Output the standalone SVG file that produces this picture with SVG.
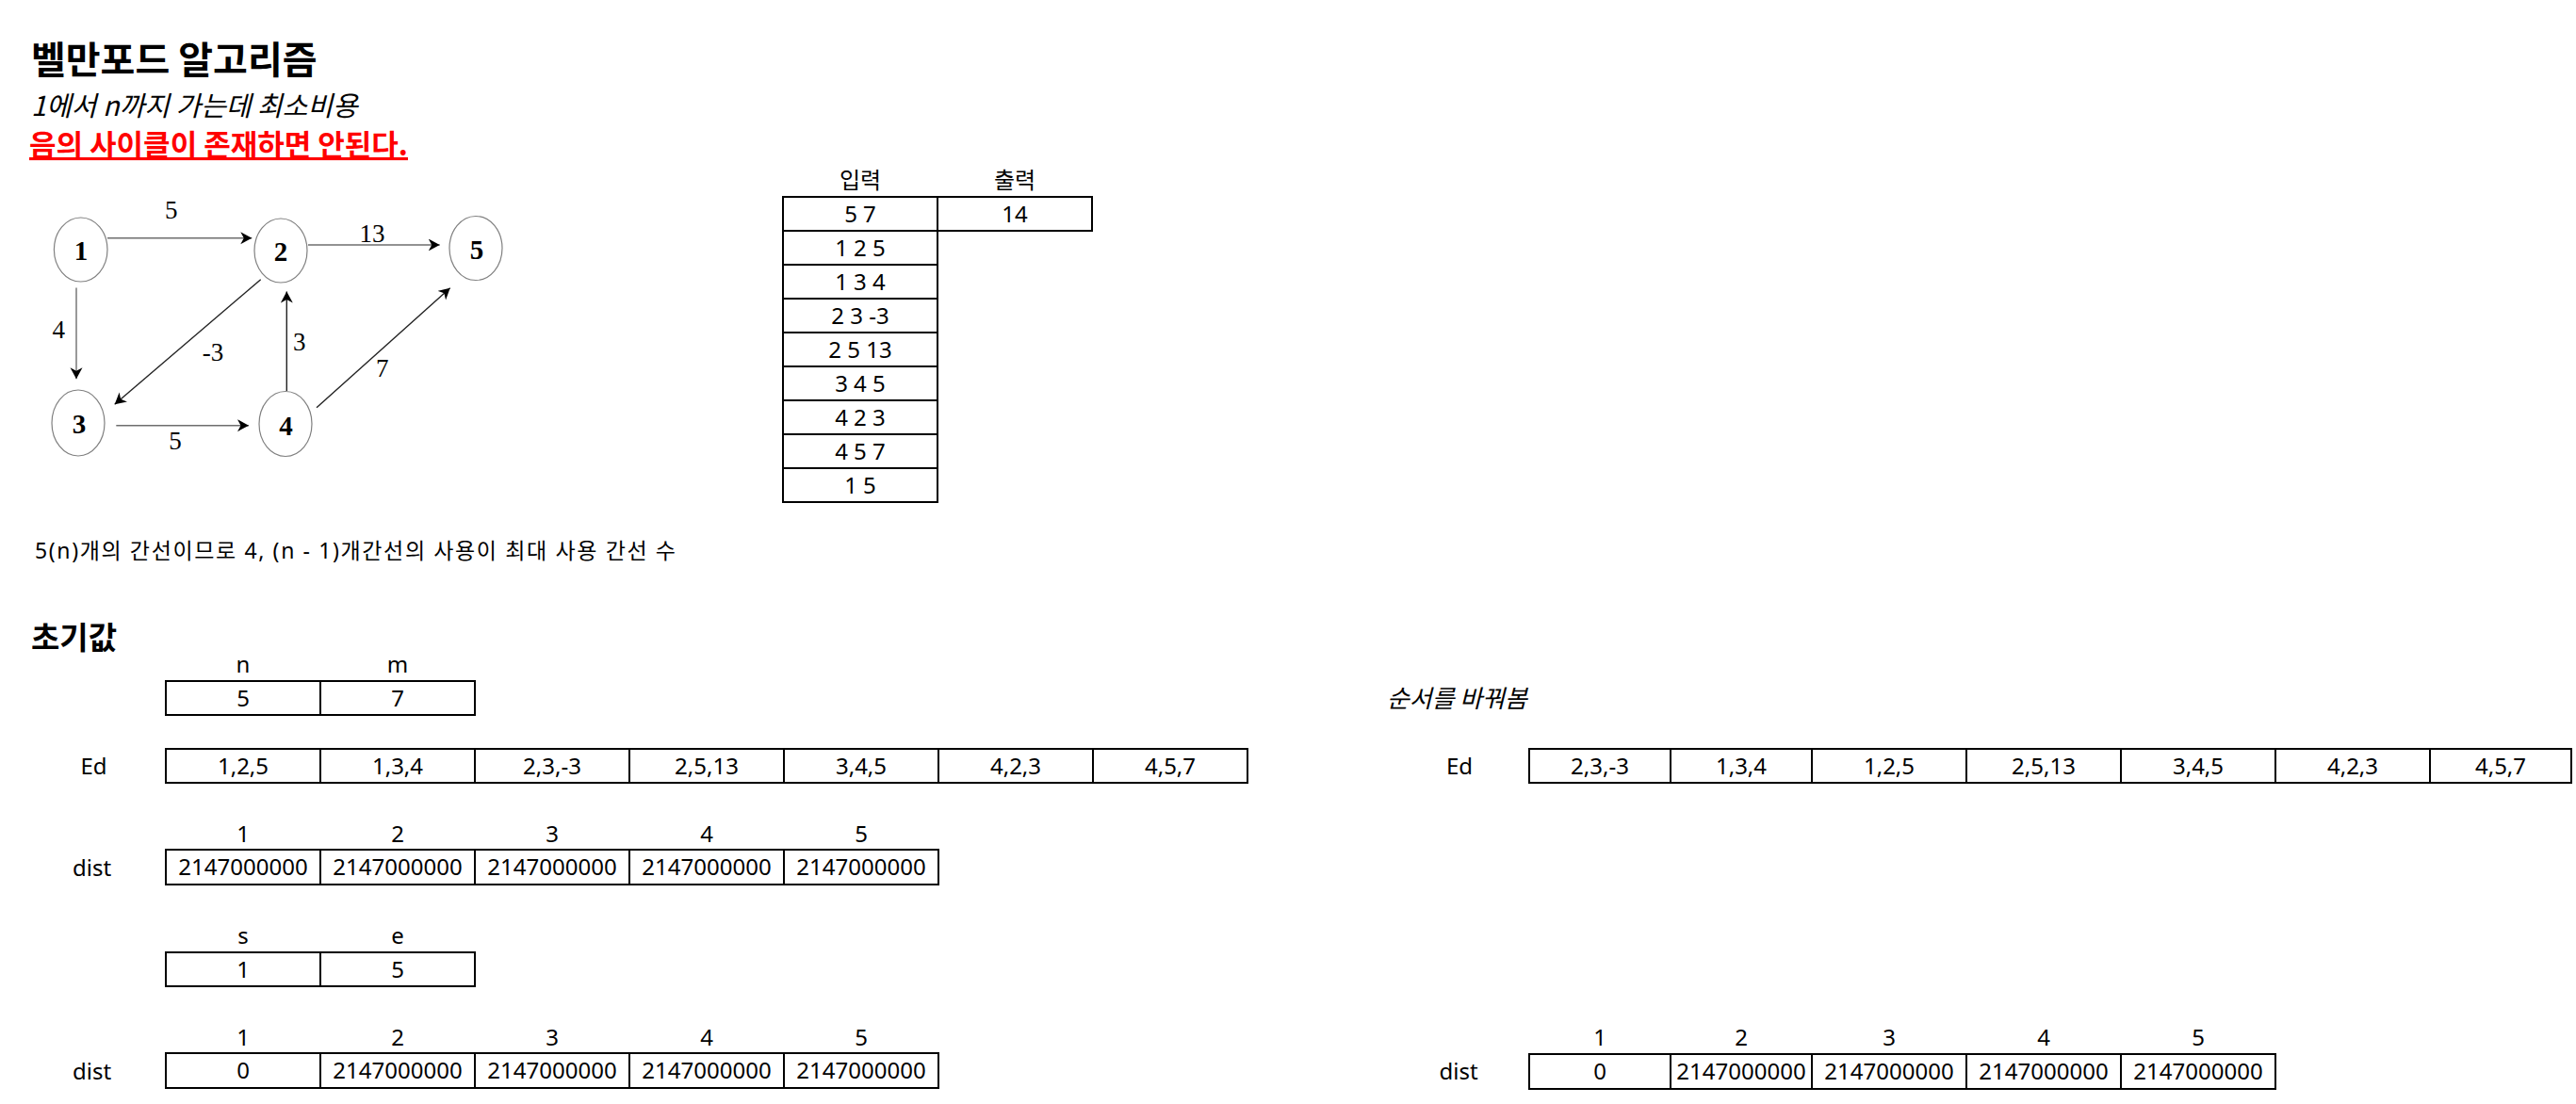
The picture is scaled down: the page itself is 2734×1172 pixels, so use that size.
<svg xmlns="http://www.w3.org/2000/svg" width="2734" height="1172" viewBox="0 0 2734 1172">
<style>
text { font-family: "Noto Sans", "Noto Sans CJK KR", sans-serif; fill: #000; }
.t { font-size: 24px; text-anchor: middle; }
.lbl { font-size: 24px; text-anchor: middle; }
.cell { fill: #fff; stroke: #000; stroke-width: 2; }
.node { fill: #fff; stroke: #808080; stroke-width: 1.2; }
.nl { font-family: "Liberation Serif", serif; font-weight: bold; font-size: 29px; text-anchor: middle; }
.el { font-family: "Liberation Serif", serif; font-size: 27px; text-anchor: middle; }
.edge { fill: none; stroke-width: 1.4; marker-end: url(#arr); }
.g { stroke: #6e6e6e; }
.k { stroke: #222; }
</style>
<defs>
<marker id="arr" markerUnits="userSpaceOnUse" markerWidth="14" markerHeight="14" refX="12" refY="6.5" orient="auto">
<path d="M0,0 L12,6.5 L0,13 L3.5,6.5 Z" fill="#000"/>
</marker>
</defs>
<rect width="2734" height="1172" fill="#fff"/>

<g id="titles">
<text x="33" y="78" style="font-family:'Noto Sans CJK KR',sans-serif;font-size:40px;font-weight:bold">벨만포드 알고리즘</text>
<text x="33" y="123" style="font-family:'Noto Sans CJK KR',sans-serif;font-size:29px;font-style:italic">1에서 n까지 가는데 최소비용</text>
<text x="31" y="165" style="font-family:'Noto Sans CJK KR',sans-serif;font-size:31px;font-weight:bold;fill:#ff0000;text-decoration:underline">음의 사이클이 존재하면 안된다.</text>
</g>

<g id="connectors">
<line class="edge g" x1="114" y1="252.7" x2="267.3" y2="252.7"/>
<line class="edge g" x1="327" y1="260" x2="466.7" y2="260"/>
<line class="edge g" x1="81" y1="305.5" x2="81" y2="402.3"/>
<line class="edge k" x1="276.7" y1="296.7" x2="121.7" y2="429.3"/>
<line class="edge k" x1="304.3" y1="415" x2="304.3" y2="309.5"/>
<line class="edge g" x1="123.3" y1="451.7" x2="264" y2="451.7"/>
<line class="edge k" x1="336" y1="432.7" x2="477.7" y2="305.7"/>
<text class="el" x="181.7" y="231.5">5</text>
<text class="el" x="395" y="256.5">13</text>
<text class="el" x="62.3" y="359">4</text>
<text class="el" x="226" y="383">-3</text>
<text class="el" x="317.7" y="371.5">3</text>
<text class="el" x="405.7" y="400">7</text>
<text class="el" x="186" y="476.5">5</text>
</g>

<g id="node1"><ellipse class="node" cx="85.7" cy="265" rx="28.3" ry="34"/><text class="nl" x="86" y="276">1</text></g>
<g id="node2"><ellipse class="node" cx="298" cy="266" rx="28" ry="34"/><text class="nl" x="298" y="277">2</text></g>
<g id="node5"><ellipse class="node" cx="505" cy="263.5" rx="28" ry="34"/><text class="nl" x="506" y="275">5</text></g>
<g id="node3"><ellipse class="node" cx="83" cy="449" rx="28" ry="35"/><text class="nl" x="84" y="460">3</text></g>
<g id="node4"><ellipse class="node" cx="303" cy="450" rx="28" ry="34.5"/><text class="nl" x="303.5" y="461.5">4</text></g>

<g id="io-table">
<text class="lbl" x="913" y="200">입력</text>
<text class="lbl" x="1077" y="200">출력</text>
<rect class="cell" x="831" y="209" width="164" height="36"/>
<rect class="cell" x="995" y="209" width="164" height="36"/>
<rect class="cell" x="831" y="245" width="164" height="36"/>
<rect class="cell" x="831" y="281" width="164" height="36"/>
<rect class="cell" x="831" y="317" width="164" height="36"/>
<rect class="cell" x="831" y="353" width="164" height="36"/>
<rect class="cell" x="831" y="389" width="164" height="36"/>
<rect class="cell" x="831" y="425" width="164" height="36"/>
<rect class="cell" x="831" y="461" width="164" height="36"/>
<rect class="cell" x="831" y="497" width="164" height="36"/>
<text class="t" x="913" y="236">5 7</text>
<text class="t" x="1077" y="236">14</text>
<text class="t" x="913" y="272">1 2 5</text>
<text class="t" x="913" y="308">1 3 4</text>
<text class="t" x="913" y="344">2 3 -3</text>
<text class="t" x="913" y="380">2 5 13</text>
<text class="t" x="913" y="416">3 4 5</text>
<text class="t" x="913" y="452">4 2 3</text>
<text class="t" x="913" y="488">4 5 7</text>
<text class="t" x="913" y="524">1 5</text>
</g>

<g id="notes">
<text x="37" y="593" textLength="680" lengthAdjust="spacing" style="font-family:'Noto Sans','Noto Sans CJK KR',sans-serif;font-size:23px">5(n)개의 간선이므로 4, (n - 1)개간선의 사용이 최대 사용 간선 수</text>
<text x="33" y="689" style="font-family:'Noto Sans CJK KR',sans-serif;font-size:33px;font-weight:bold">초기값</text>
<text x="1472" y="751" textLength="149" lengthAdjust="spacing" style="font-family:'Noto Sans CJK KR',sans-serif;font-size:26px;font-style:italic">순서를 바꿔봄</text>
</g>

<g id="nm-table">
<text class="t" x="258" y="714">n</text>
<text class="t" x="422" y="714">m</text>
<rect class="cell" x="176" y="723" width="164" height="36"/>
<rect class="cell" x="340" y="723" width="164" height="36"/>
<text class="t" x="258" y="750">5</text>
<text class="t" x="422" y="750">7</text>
</g>

<g id="ed-table">
<text class="t" x="99.5" y="822">Ed</text>
<rect class="cell" x="176" y="795" width="164" height="36"/>
<rect class="cell" x="340" y="795" width="164" height="36"/>
<rect class="cell" x="504" y="795" width="164" height="36"/>
<rect class="cell" x="668" y="795" width="164" height="36"/>
<rect class="cell" x="832" y="795" width="164" height="36"/>
<rect class="cell" x="996" y="795" width="164" height="36"/>
<rect class="cell" x="1160" y="795" width="164" height="36"/>
<text class="t" x="258" y="822">1,2,5</text>
<text class="t" x="422" y="822">1,3,4</text>
<text class="t" x="586" y="822">2,3,-3</text>
<text class="t" x="750" y="822">2,5,13</text>
<text class="t" x="914" y="822">3,4,5</text>
<text class="t" x="1078" y="822">4,2,3</text>
<text class="t" x="1242" y="822">4,5,7</text>
</g>

<g id="dist-table-1">
<text class="t" x="258" y="894">1</text>
<text class="t" x="422" y="894">2</text>
<text class="t" x="586" y="894">3</text>
<text class="t" x="750" y="894">4</text>
<text class="t" x="914" y="894">5</text>
<text class="t" x="97.5" y="930">dist</text>
<rect class="cell" x="176" y="902" width="164" height="37"/>
<rect class="cell" x="340" y="902" width="164" height="37"/>
<rect class="cell" x="504" y="902" width="164" height="37"/>
<rect class="cell" x="668" y="902" width="164" height="37"/>
<rect class="cell" x="832" y="902" width="164" height="37"/>
<text class="t" x="258" y="929">2147000000</text>
<text class="t" x="422" y="929">2147000000</text>
<text class="t" x="586" y="929">2147000000</text>
<text class="t" x="750" y="929">2147000000</text>
<text class="t" x="914" y="929">2147000000</text>
</g>

<g id="se-table">
<text class="t" x="258" y="1002">s</text>
<text class="t" x="422" y="1002">e</text>
<rect class="cell" x="176" y="1011" width="164" height="36"/>
<rect class="cell" x="340" y="1011" width="164" height="36"/>
<text class="t" x="258" y="1038">1</text>
<text class="t" x="422" y="1038">5</text>
</g>

<g id="dist-table-2">
<text class="t" x="258" y="1110">1</text>
<text class="t" x="422" y="1110">2</text>
<text class="t" x="586" y="1110">3</text>
<text class="t" x="750" y="1110">4</text>
<text class="t" x="914" y="1110">5</text>
<text class="t" x="97.5" y="1146">dist</text>
<rect class="cell" x="176" y="1118" width="164" height="37"/>
<rect class="cell" x="340" y="1118" width="164" height="37"/>
<rect class="cell" x="504" y="1118" width="164" height="37"/>
<rect class="cell" x="668" y="1118" width="164" height="37"/>
<rect class="cell" x="832" y="1118" width="164" height="37"/>
<text class="t" x="258" y="1145">0</text>
<text class="t" x="422" y="1145">2147000000</text>
<text class="t" x="586" y="1145">2147000000</text>
<text class="t" x="750" y="1145">2147000000</text>
<text class="t" x="914" y="1145">2147000000</text>
</g>

<g id="ed-table-reordered">
<text class="t" x="1549" y="822">Ed</text>
<rect class="cell" x="1623" y="795" width="150" height="36"/>
<rect class="cell" x="1773" y="795" width="150" height="36"/>
<rect class="cell" x="1923" y="795" width="164" height="36"/>
<rect class="cell" x="2087" y="795" width="164" height="36"/>
<rect class="cell" x="2251" y="795" width="164" height="36"/>
<rect class="cell" x="2415" y="795" width="164" height="36"/>
<rect class="cell" x="2579" y="795" width="150" height="36"/>
<text class="t" x="1698" y="822">2,3,-3</text>
<text class="t" x="1848" y="822">1,3,4</text>
<text class="t" x="2005" y="822">1,2,5</text>
<text class="t" x="2169" y="822">2,5,13</text>
<text class="t" x="2333" y="822">3,4,5</text>
<text class="t" x="2497" y="822">4,2,3</text>
<text class="t" x="2654" y="822">4,5,7</text>
</g>

<g id="dist-table-3">
<text class="t" x="1698" y="1110">1</text>
<text class="t" x="1848" y="1110">2</text>
<text class="t" x="2005" y="1110">3</text>
<text class="t" x="2169" y="1110">4</text>
<text class="t" x="2333" y="1110">5</text>
<text class="t" x="1548" y="1146">dist</text>
<rect class="cell" x="1623" y="1119" width="150" height="37"/>
<rect class="cell" x="1773" y="1119" width="150" height="37"/>
<rect class="cell" x="1923" y="1119" width="164" height="37"/>
<rect class="cell" x="2087" y="1119" width="164" height="37"/>
<rect class="cell" x="2251" y="1119" width="164" height="37"/>
<text class="t" x="1698" y="1146">0</text>
<text class="t" x="1848" y="1146">2147000000</text>
<text class="t" x="2005" y="1146">2147000000</text>
<text class="t" x="2169" y="1146">2147000000</text>
<text class="t" x="2333" y="1146">2147000000</text>
</g>
</svg>
